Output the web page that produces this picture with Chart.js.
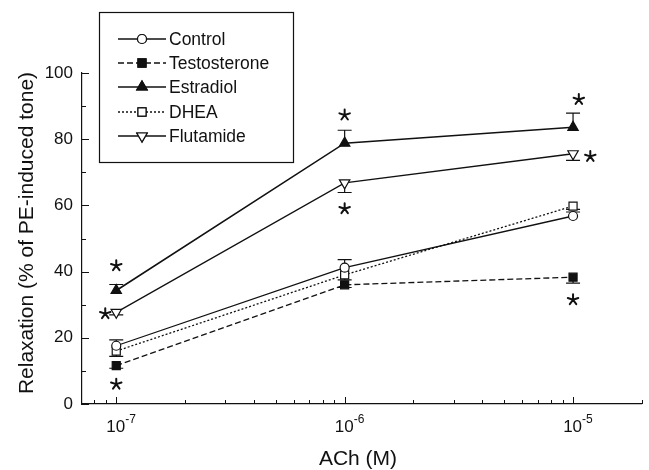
<!DOCTYPE html>
<html>
<head>
<meta charset="utf-8">
<script src="https://cdn.jsdelivr.net/npm/chart.js@4"></script>
<style>
  html, body { margin: 0; padding: 0; background: #fff; }
  #wrap { width: 649px; height: 470px; }
</style>
</head>
<body>
<div id="wrap"><canvas id="relaxChart" width="649" height="470"></canvas></div>
<script>
// ACh concentrations (M)
const concentrations = [1e-7, 1e-6, 1e-5];

const seriesNames = ["Control", "Testosterone", "Estradiol", "DHEA", "Flutamide"];
const controlValues = [17.6, 41.2, 56.8];
const testosteroneValues = [11.6, 36, 38.3];
const estradiolValues = [34.3, 78.8, 83.6];
const dheaValues = [16, 39, 59.8];
const flutamideValues = [27.7, 66.8, 75.6];

// SEM, drawn one way only (1 = up, -1 = down)
const controlErr = [1.8, 2.4, 1.2];
const testosteroneErr = [0.8, 0.8, 1.8];
const estradiolErr = [1.8, 3.9, 4.3];
const dheaErr = [1.6, 1.5, 1.0];
const flutamideErr = [0.8, 2.9, 2.0];
const errDirection = [1, -1, 1, -1, -1];

// significance stars, in data units
const starX = [1e-7, 1e-7, 0.895e-7, 1e-6, 1e-6, 1.06e-5, 1.19e-5, 1e-5];
const starY = [41.8, 6, 27.3, 87.3, 59, 92, 74.8, 31.5];

const yTicks = [0, 20, 40, 60, 80, 100];
const xDecades = [-7, -6, -5];

const FONT = '"Liberation Sans", Arial, Helvetica, sans-serif';
const INK = "#111";

function pts(vals) {
  return vals.map((v, i) => ({ x: concentrations[i], y: v }));
}

function drawStar(ctx, cx, cy) {
  ctx.save();
  ctx.lineWidth = 2;
  ctx.lineCap = "round";
  ctx.beginPath();
  for (let k = 0; k < 5; k++) {
    const a = -Math.PI / 2 + (k * 2 * Math.PI) / 5;
    ctx.moveTo(cx, cy);
    ctx.lineTo(cx + Math.cos(a) * 5.5, cy + Math.sin(a) * 5.5);
  }
  ctx.stroke();
  ctx.restore();
}

const extras = {
  id: "extras",
  beforeDatasetsDraw(chart) {
    const ctx = chart.ctx;
    const xs = chart.scales.x;
    const ys = chart.scales.y;
    ctx.save();
    ctx.strokeStyle = INK;
    ctx.lineWidth = 1.2;
    chart.data.datasets.forEach((ds) => {
      ds.data.forEach((p, i) => {
        const px = xs.getPixelForValue(p.x);
        const y0 = ys.getPixelForValue(p.y);
        const y1 = ys.getPixelForValue(p.y + ds.errDir * ds.errors[i]);
        ctx.beginPath();
        ctx.moveTo(px, y0);
        ctx.lineTo(px, y1);
        ctx.moveTo(px - 7, y1);
        ctx.lineTo(px + 7, y1);
        ctx.stroke();
      });
    });
    ctx.restore();
  },
  afterDraw(chart) {
    const ctx = chart.ctx;
    const xs = chart.scales.x;
    const ys = chart.scales.y;
    const area = chart.chartArea;
    ctx.save();
    ctx.strokeStyle = INK;
    ctx.fillStyle = INK;
    ctx.lineWidth = 1;

    // y ticks, pointing inward
    for (let v = 0; v <= 100; v += 10) {
      const py = Math.round(ys.getPixelForValue(v)) + 0.5;
      const len = v % 20 === 0 ? 7 : 4;
      ctx.beginPath();
      ctx.moveTo(area.left, py);
      ctx.lineTo(area.left + len, py);
      ctx.stroke();
    }

    // x ticks (log), pointing inward
    for (let e = -8; e <= -5; e++) {
      for (let k = 1; k <= 9; k++) {
        const v = k * Math.pow(10, e);
        if (v < xs.min || v > xs.max * 1.0001) continue;
        const px = Math.round(xs.getPixelForValue(v)) + 0.5;
        const len = k === 1 ? 7 : 4;
        ctx.beginPath();
        ctx.moveTo(px, area.bottom);
        ctx.lineTo(px, area.bottom - len);
        ctx.stroke();
      }
    }

    // x tick labels 10^n
    xDecades.forEach((e) => {
      const px = xs.getPixelForValue(Math.pow(10, e));
      ctx.font = "17px " + FONT;
      ctx.textAlign = "right";
      ctx.textBaseline = "alphabetic";
      ctx.fillText("10", px + 9, 432);
      ctx.font = "12px " + FONT;
      ctx.textAlign = "left";
      ctx.fillText(String(e), px + 9, 423);
    });

    // axis titles
    ctx.font = "21px " + FONT;
    ctx.textAlign = "center";
    ctx.textBaseline = "alphabetic";
    ctx.fillText("ACh (M)", 358, 465);
    ctx.save();
    ctx.translate(33, 233);
    ctx.rotate(-Math.PI / 2);
    ctx.fillText("Relaxation (% of PE-induced tone)", 0, 0);
    ctx.restore();

    // stars
    starX.forEach((sx, i) => {
      drawStar(ctx, xs.getPixelForValue(sx), ys.getPixelForValue(starY[i]));
    });

    // legend box
    ctx.lineWidth = 1.2;
    ctx.fillStyle = "#fff";
    ctx.fillRect(99, 12, 194, 150);
    ctx.strokeRect(99.5, 12.5, 194, 150);
    const rowY = [39, 63, 87, 112, 136];
    chart.data.datasets.forEach((ds, i) => {
      const y = rowY[i];
      ctx.save();
      ctx.strokeStyle = INK;
      ctx.lineWidth = ds.borderWidth;
      ctx.setLineDash(ds.borderDash || []);
      ctx.beginPath();
      ctx.moveTo(118, y);
      ctx.lineTo(166, y);
      ctx.stroke();
      ctx.restore();
      Chart.helpers.drawPoint(ctx, {
        pointStyle: ds.pointStyle,
        radius: ds.pointRadius,
        rotation: ds.pointRotation || 0,
        borderWidth: 1.2
      }, 142, y);
      ctx.save();
      ctx.fillStyle = ds.pointBackgroundColor;
      ctx.strokeStyle = INK;
      ctx.lineWidth = 1.2;
      ctx.fill();
      ctx.stroke();
      ctx.restore();
      ctx.fillStyle = INK;
      ctx.font = "17.5px " + FONT;
      ctx.textAlign = "left";
      ctx.textBaseline = "middle";
      ctx.fillText(ds.label, 169, y + 1);
    });
    ctx.restore();
  }
};

function series(i, vals, errs, style) {
  return Object.assign({
    label: seriesNames[i],
    data: pts(vals),
    errors: errs,
    errDir: errDirection[i],
    borderColor: INK,
    pointBorderColor: INK,
    pointBorderWidth: 1.2,
    borderWidth: 1.3,
    fill: false,
    tension: 0
  }, style);
}

const datasets = [
  series(0, controlValues, controlErr, { pointStyle: "circle", pointRadius: 4.5, pointBackgroundColor: "#fff" }),
  series(1, testosteroneValues, testosteroneErr, { pointStyle: "rect", pointRadius: 5.7, pointBackgroundColor: INK, borderDash: [6, 3] }),
  series(2, estradiolValues, estradiolErr, { pointStyle: "triangle", pointRadius: 6, pointBackgroundColor: INK, borderWidth: 1.6 }),
  series(3, dheaValues, dheaErr, { pointStyle: "rect", pointRadius: 5.7, pointBackgroundColor: "#fff", borderDash: [2, 2] }),
  series(4, flutamideValues, flutamideErr, { pointStyle: "triangle", pointRadius: 6, pointRotation: 180, pointBackgroundColor: "#fff" })
];

new Chart(document.getElementById("relaxChart"), {
  type: "line",
  data: { datasets },
  plugins: [extras],
  options: {
    responsive: false,
    animation: false,
    layout: { padding: { top: 73, right: 3, bottom: 0, left: 0 } },
    plugins: { legend: { display: false }, tooltip: { enabled: false } },
    scales: {
      x: {
        type: "logarithmic",
        min: 7.08e-8,
        max: 2e-5,
        ticks: { display: false },
        grid: { display: false, drawTicks: false },
        border: { color: INK, width: 1.2 },
        afterFit: (s) => { s.height = 66; }
      },
      y: {
        min: 0,
        max: 100,
        afterBuildTicks: (s) => { s.ticks = yTicks.map((v) => ({ value: v })); },
        ticks: { color: INK, font: { family: FONT, size: 17 }, padding: 9 },
        grid: { display: false, drawTicks: false },
        border: { color: INK, width: 1.2 },
        afterFit: (s) => { s.width = 82; }
      }
    }
  }
});
</script>
</body>
</html>
